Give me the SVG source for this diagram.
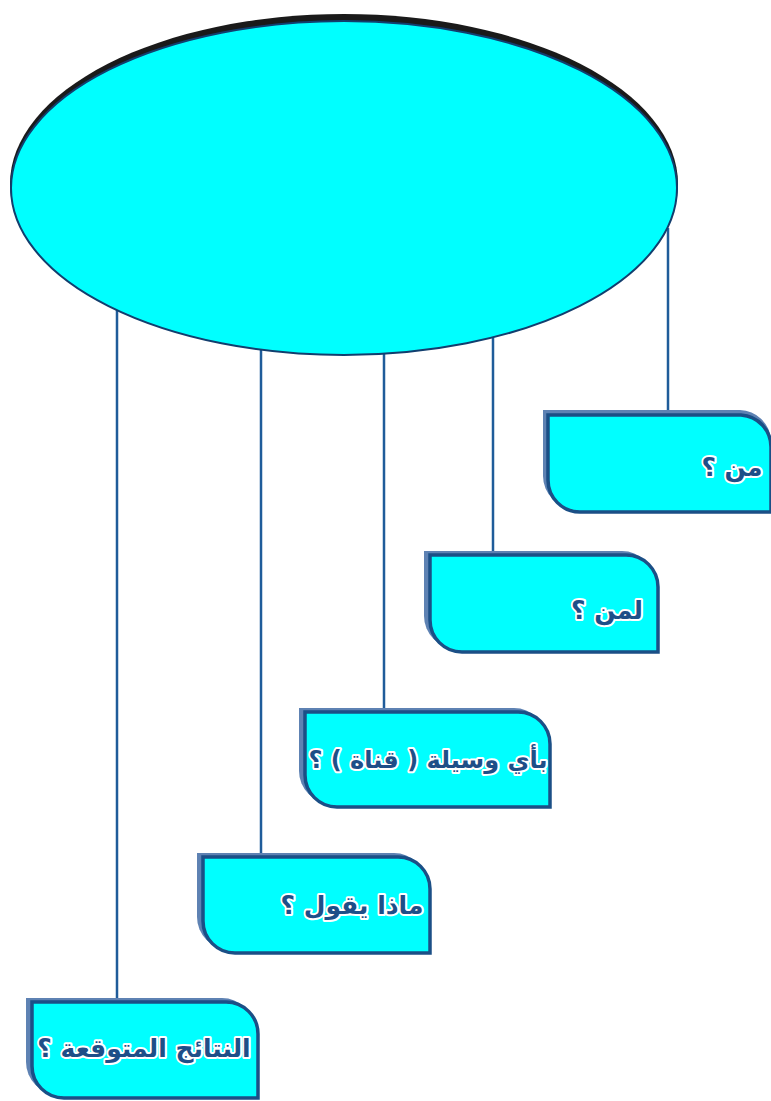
<svg xmlns="http://www.w3.org/2000/svg" width="771" height="1101" viewBox="0 0 771 1101">
<style>
.box{fill:#00FFFF;stroke:#1B4F86;stroke-width:3.5}
.shadow{fill:#5E82B3}
.conn{stroke:#1F5C9A;stroke-width:2.5;fill:none}
.lbl{font-family:"DejaVu Sans",sans-serif;font-weight:bold;font-size:25px;fill:#1E4F88;stroke:#ffffff;stroke-width:4;paint-order:stroke;stroke-linejoin:round;text-anchor:middle}
</style>
<rect width="771" height="1101" fill="#ffffff"/>
<g id="connectors">
<line class="conn" x1="117" y1="308" x2="117" y2="1003"/>
<line class="conn" x1="261" y1="350" x2="261" y2="858"/>
<line class="conn" x1="384" y1="354" x2="384" y2="713"/>
<line class="conn" x1="493" y1="338" x2="493" y2="556"/>
<line class="conn" x1="668" y1="228" x2="668" y2="416"/>
</g>
<g id="ellipse">
<ellipse cx="344" cy="184" rx="334" ry="170" fill="#1a1a1a"/>
<ellipse cx="344" cy="188" rx="333" ry="167" fill="#00FFFF" stroke="#123E6E" stroke-width="2"/>
</g>
<g id="box1">
<path class="shadow" d="M543,410 H740 A32,32 0 0 1 771,440 V508 H576 A32,32 0 0 1 543,476 Z"/>
<path class="box" d="M548,415 H741 A32,32 0 0 1 771,447 V512 H580 A32,32 0 0 1 548,480 Z"/>
<text class="lbl" x="732" y="476">من ؟</text>
</g>
<g id="box2">
<path class="shadow" d="M424,551 H622 A32,32 0 0 1 654,583 V648 H456 A32,32 0 0 1 424,616 Z"/>
<path class="box" d="M430,555 H626 A32,32 0 0 1 658,587 V652 H462 A32,32 0 0 1 430,620 Z"/>
<text class="lbl" x="607" y="619">لمن ؟</text>
</g>
<g id="box3">
<path class="shadow" d="M299,708 H514 A32,32 0 0 1 546,740 V803 H331 A32,32 0 0 1 299,771 Z"/>
<path class="box" d="M305,712 H518 A32,32 0 0 1 550,744 V807 H337 A32,32 0 0 1 305,775 Z"/>
<text class="lbl" x="428" y="768" style="font-size:24px">بأي وسيلة ( قناة ) ؟</text>
</g>
<g id="box4">
<path class="shadow" d="M197,853 H394 A32,32 0 0 1 426,885 V949 H229 A32,32 0 0 1 197,917 Z"/>
<path class="box" d="M203,857 H398 A32,32 0 0 1 430,889 V953 H235 A32,32 0 0 1 203,921 Z"/>
<text class="lbl" x="352" y="914">ماذا يقول ؟</text>
</g>
<g id="box5">
<path class="shadow" d="M26,998 H222 A32,32 0 0 1 254,1030 V1094 H58 A32,32 0 0 1 26,1062 Z"/>
<path class="box" d="M32,1002 H226 A32,32 0 0 1 258,1034 V1098 H64 A32,32 0 0 1 32,1066 Z"/>
<text class="lbl" x="144" y="1057">النتائج المتوقعة ؟</text>
</g>
</svg>
